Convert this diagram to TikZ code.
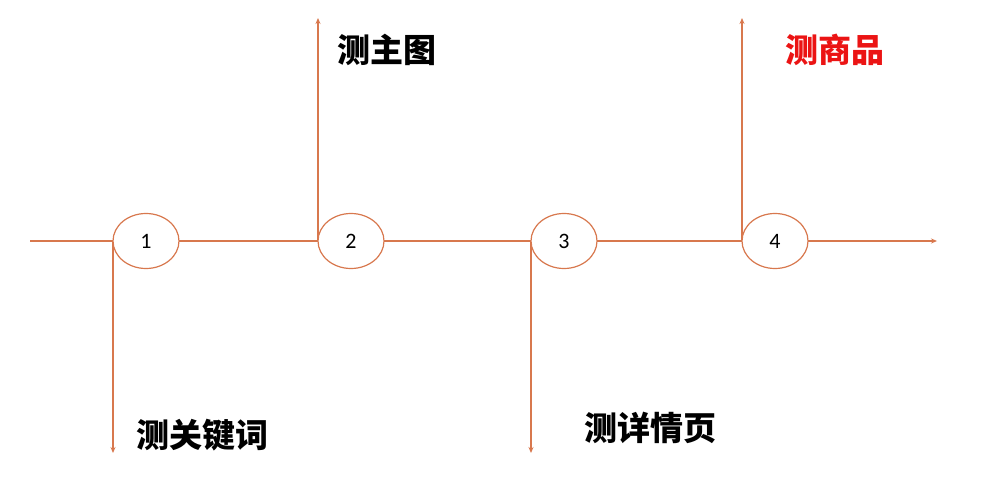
\documentclass[tikz,border=0pt]{standalone}
\usepackage{fontspec}
\setmainfont{Carlito}
\newfontfamily\cjk{Noto Sans CJK SC}
\usetikzlibrary{shapes.geometric,arrows.meta}
\definecolor{ln}{RGB}{216,120,78}
\definecolor{rd}{RGB}{235,20,20}
\tikzset{
  conn/.style={draw=ln, line width=1.2pt},
  arr/.style={conn, -{Stealth[length=6pt,width=5pt]}},
  step oval/.style={ellipse, draw=ln, line width=1.2pt, fill=white, minimum width=66pt, minimum height=55pt, inner sep=0pt, font=\fontsize{22}{24}\selectfont},
  lbl/.style={anchor=west, inner sep=0pt, font=\cjk\bfseries\fontsize{33}{36}\selectfont}
}
\begin{document}
\begin{tikzpicture}[x=1pt,y=-1pt]
\useasboundingbox (0,0) rectangle (992,497);
\coordinate (s) at (30,241);
\coordinate (e) at (937,241);
\coordinate (d1) at (113,453);
\coordinate (u2) at (318,18);
\coordinate (d3) at (531,453);
\coordinate (u4) at (742,18);
\draw[arr] (s) -- (e);
\draw[arr] (113,241) -- (d1);
\draw[arr] (318,241) -- (u2);
\draw[arr] (531,241) -- (d3);
\draw[arr] (742,241) -- (u4);
\node[step oval] (n1) at (146,241) {1};
\node[step oval] (n2) at (351,241) {2};
\node[step oval] (n3) at (564,241) {3};
\node[step oval] (n4) at (775,241) {4};
\node[lbl] (t1) at (136,435) {测关键词};
\node[lbl] (t2) at (337,50) {测主图};
\node[lbl] (t3) at (584,428) {测详情页};
\node[lbl, text=rd] (t4) at (785,50) {测商品};
\end{tikzpicture}
\end{document}
